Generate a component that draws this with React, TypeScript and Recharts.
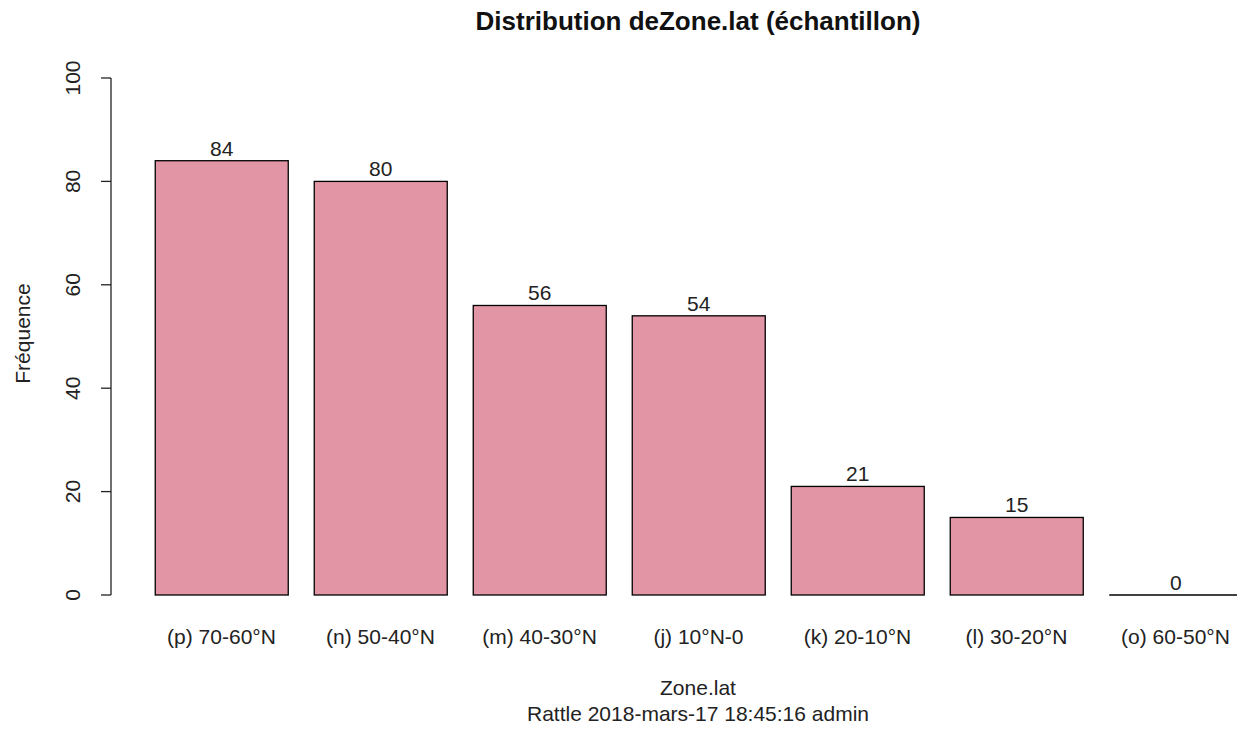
import { BarChart, Bar, XAxis, YAxis, LabelList } from 'recharts';

const zones = ['(p) 70-60°N', '(n) 50-40°N', '(m) 40-30°N', '(j) 10°N-0', '(k) 20-10°N', '(l) 30-20°N', '(o) 60-50°N'];
const counts = [84, 80, 56, 54, 21, 15, 0];
const yTicks = [0, 20, 40, 60, 80, 100];

const font = '"Liberation Sans", Arial, sans-serif';
const barFill = '#E295A5';

const chartData = zones.map((zone, i) => ({ zone, count: counts[i] }));

function BarShape(props: any) {
  const { x, y, width, height } = props;
  if (!height) {
    return <line x1={x} x2={x + width} y1={y} y2={y} stroke="#000" strokeWidth={1.3} />;
  }
  return <rect x={x} y={y} width={width} height={height} fill={barFill} stroke="#000" strokeWidth={1.3} />;
}

function YTick(props: any) {
  const { x, y, payload } = props;
  const tx = x - 19;
  return (
    <text x={tx} y={y} transform={`rotate(-90, ${tx}, ${y})`} textAnchor="middle" fill="#222" fontSize={21} fontFamily={font}>
      {payload.value}
    </text>
  );
}

function XTick(props: any) {
  const { x, y, payload } = props;
  return (
    <text x={x} y={y} dy={41} textAnchor="middle" fill="#222" fontSize={21} fontFamily={font}>
      {payload.value}
    </text>
  );
}

function YLabel(props: any) {
  const { viewBox } = props;
  const cx = viewBox.x + 22;
  const cy = viewBox.y + viewBox.height / 2 - 3;
  return (
    <text x={cx} y={cy} transform={`rotate(-90, ${cx}, ${cy})`} textAnchor="middle" dominantBaseline="central" fill="#222" fontSize={21} fontFamily={font}>
      Fréquence
    </text>
  );
}

export default function App() {
  return (
    <div style={{ position: 'absolute', left: 0, top: 0, width: 1237, height: 729, overflow: 'hidden', background: '#fff', fontFamily: font }}>
      <div style={{ position: 'absolute', left: 698, top: 6, transform: 'translateX(-50%)', whiteSpace: 'nowrap', fontSize: 26, fontWeight: 'bold', color: '#111' }}>
        Distribution deZone.lat (échantillon)
      </div>
      <BarChart
        width={1260}
        height={729}
        data={chartData}
        margin={{ top: 78, right: 5, left: 0, bottom: 104 }}
        barCategoryGap="8.33%"
      >
        <XAxis
          dataKey="zone"
          axisLine={false}
          tickLine={false}
          interval={0}
          padding={{ left: 31, right: 0 }}
          tick={<XTick />}
        />
        <YAxis
          width={111}
          domain={[0, 100]}
          ticks={yTicks}
          tickSize={10}
          tickMargin={2}
          interval={0}
          axisLine={{ stroke: '#222', strokeWidth: 1.3 }}
          tickLine={{ stroke: '#222', strokeWidth: 1.3 }}
          tick={<YTick />}
          label={<YLabel />}
        />
        <Bar dataKey="count" shape={<BarShape />} isAnimationActive={false}>
          <LabelList dataKey="count" position="top" offset={5} fill="#222" fontSize={21} fontFamily={font} />
        </Bar>
      </BarChart>
      <div style={{ position: 'absolute', left: 698, top: 675, transform: 'translateX(-50%)', whiteSpace: 'nowrap', fontSize: 21, color: '#222', lineHeight: '26px', textAlign: 'center' }}>
        Zone.lat
        <br />
        Rattle 2018-mars-17 18:45:16 admin
      </div>
    </div>
  );
}
